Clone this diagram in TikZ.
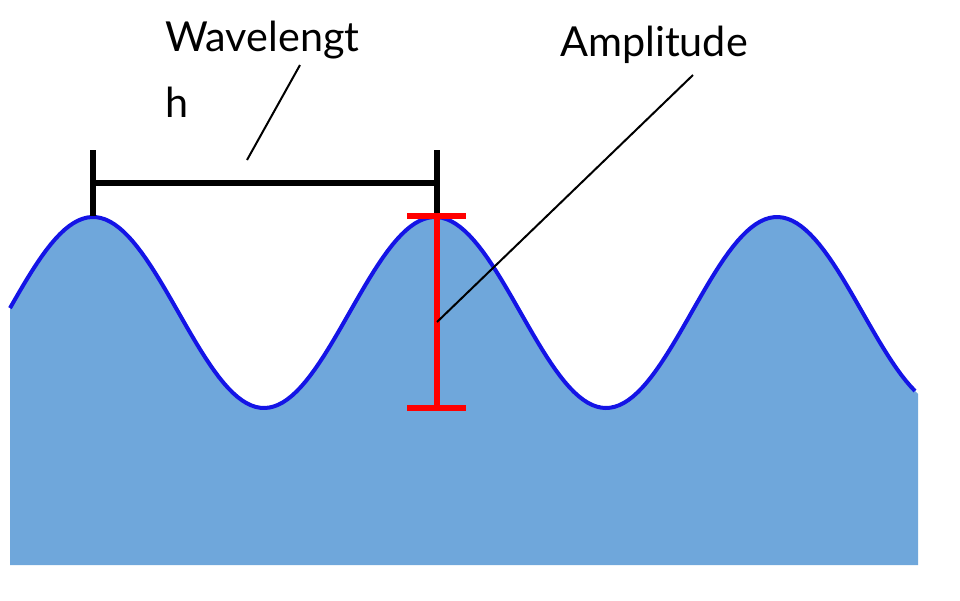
\documentclass[tikz,border=0pt]{standalone}
\usepackage{fontspec}
\setmainfont{Lato}
\begin{document}
\begin{tikzpicture}[x=0.75pt,y=0.75pt,yscale=-1,xscale=1]
\tikzset{lbl/.style={anchor=west,inner sep=0pt,font=\fontsize{31}{44}\selectfont},
  bar/.style={line width=4.5pt}}
\useasboundingbox (0,0) rectangle (960,600);

%Shape: Water
\fill [fill={rgb, 255:red, 111; green, 167; blue, 219 }] (10,565) -- plot[domain=10:918,samples=200] (\x,{312.5-95.5*cos((\x-93)/342*360)}) -- (918,565) -- cycle ;
%Curve: Wave
\draw [color={rgb, 255:red, 20; green, 20; blue, 230 }, line width=3pt] plot[domain=10:915,samples=200] (\x,{312.5-95.5*cos((\x-93)/342*360)}) ;

%Wavelength bar
\coordinate (wl) at (93,183);
\coordinate (wr) at (437,183);
\draw [bar] (wl) -- (wr) ;
\draw [bar] (93,150) -- (93,216) ;
\draw [bar] (437,150) -- (437,216) ;

%Amplitude bar
\coordinate (at) at (437,216);
\coordinate (ab) at (437,408);
\draw [bar,red] (at) -- (ab) ;
\draw [bar,red] (407,216) -- (466,216) ;
\draw [bar,red] (407,408) -- (466,408) ;

% Text Node
\node (wave) [lbl] at (165,40) {Wavelengt};
\node (waveh) [lbl] at (165,102) {h};
\node (amp) [lbl] at (560,45) {Amplitude};

%Pointer lines
\coordinate (wp) at (247,160);
\coordinate (ap) at (437,322);
\draw [line width=1.5pt] (wp) -- (300,65) ;
\draw [line width=1.5pt] (ap) -- (693,75) ;
\end{tikzpicture}
\end{document}
